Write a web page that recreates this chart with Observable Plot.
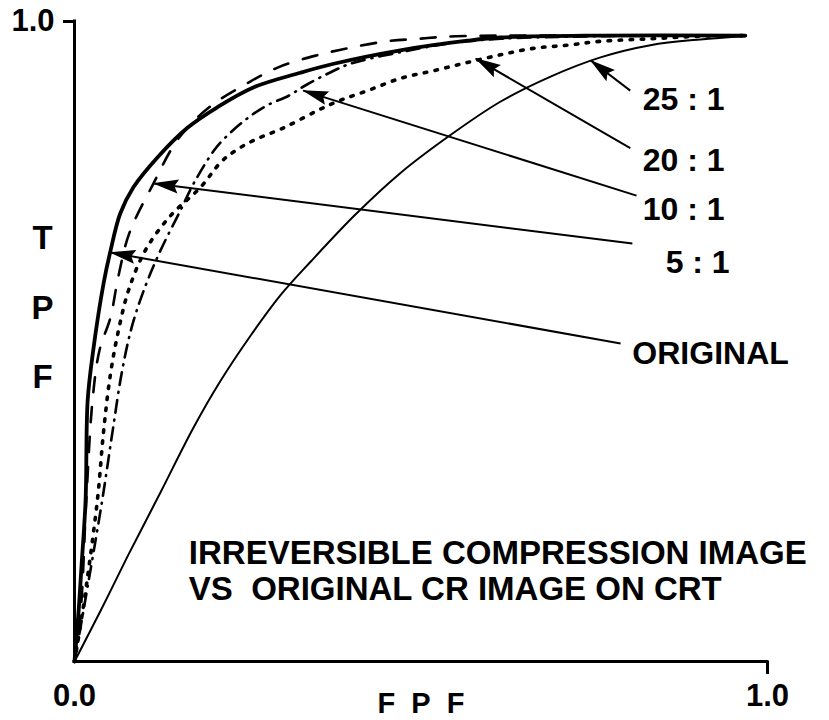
<!DOCTYPE html>
<html>
<head>
<meta charset="utf-8">
<script src="https://cdn.jsdelivr.net/npm/d3@7"></script>
<script src="https://cdn.jsdelivr.net/npm/@observablehq/plot@0.6"></script>
<style>
  html, body { margin: 0; padding: 0; background: #fff; }
</style>
</head>
<body>
<div id="chart"></div>
<script>
// ROC curves: [FPF, TPF]
const original = [[0,0],[0.006,0.080],[0.010,0.147],[0.016,0.252],[0.019,0.408],[0.027,0.486],[0.042,0.591],[0.052,0.642],[0.066,0.700],[0.085,0.741],[0.120,0.788],[0.163,0.834],[0.206,0.866],[0.258,0.897],[0.326,0.920],[0.374,0.934],[0.470,0.955],[0.567,0.970],[0.615,0.975],[0.759,0.978],[0.968,0.978]];
const ratio5 = [[0,0],[0.009,0.080],[0.017,0.252],[0.026,0.408],[0.036,0.486],[0.052,0.538],[0.063,0.600],[0.079,0.669],[0.114,0.747],[0.143,0.806],[0.167,0.839],[0.203,0.873],[0.247,0.902],[0.293,0.928],[0.349,0.947],[0.398,0.959],[0.450,0.969],[0.496,0.973],[0.550,0.977],[0.701,0.978],[0.968,0.978]];
const ratio10 = [[0,0],[0.013,0.080],[0.040,0.252],[0.055,0.360],[0.068,0.450],[0.082,0.520],[0.100,0.580],[0.124,0.642],[0.153,0.705],[0.172,0.747],[0.201,0.798],[0.218,0.819],[0.251,0.850],[0.278,0.869],[0.309,0.884],[0.333,0.900],[0.374,0.923],[0.398,0.934],[0.470,0.952],[0.543,0.966],[0.615,0.973],[0.759,0.977],[0.968,0.978]];
const ratio20 = [[0,0],[0.012,0.080],[0.033,0.252],[0.042,0.360],[0.052,0.450],[0.064,0.520],[0.078,0.580],[0.102,0.642],[0.139,0.697],[0.182,0.741],[0.211,0.780],[0.232,0.798],[0.258,0.814],[0.302,0.834],[0.351,0.861],[0.384,0.877],[0.423,0.892],[0.470,0.911],[0.518,0.923],[0.567,0.936],[0.615,0.948],[0.662,0.958],[0.711,0.963],[0.759,0.969],[0.831,0.973],[0.903,0.977],[0.968,0.978]];
const ratio25 = [[0,0],[0.038,0.080],[0.076,0.163],[0.124,0.264],[0.172,0.366],[0.211,0.439],[0.254,0.509],[0.297,0.572],[0.341,0.625],[0.405,0.698],[0.470,0.763],[0.543,0.823],[0.615,0.875],[0.687,0.914],[0.759,0.944],[0.831,0.963],[0.903,0.972],[0.968,0.977]];

// Labels and pointer arrows
const labelText = ["25\u00a0:\u00a01", "20\u00a0:\u00a01", "10\u00a0:\u00a01", "5\u00a0:\u00a01", "ORIGINAL"];
const labelFPF = [0.820, 0.820, 0.820, 0.853, 0.805];
const labelTPF = [0.877, 0.783, 0.706, 0.623, 0.481];
const arrowTail = [[0.802,0.892],[0.802,0.802],[0.811,0.728],[0.805,0.653],[0.788,0.497]];
const arrowTip  = [[0.745,0.939],[0.579,0.942],[0.330,0.892],[0.114,0.747],[0.052,0.639]];

const noteLines = ["IRREVERSIBLE COMPRESSION IMAGE", "VS\u00a0\u00a0ORIGINAL CR IMAGE ON CRT"];
const notePos = [0.165, 0.142];

const xTicks = [0, 1];
const yTicks = [1];
const yTitle = "T\nP\nF";
const xTitle = "F\u00a0\u00a0P\u00a0\u00a0F";

const FONT = "'Liberation Sans', Arial, Helvetica, sans-serif";
const toPts = (arr) => arr.map(([x, y]) => ({x, y}));
const arrows = arrowTail.map((t, i) => ({x1: t[0], y1: t[1], x2: arrowTip[i][0], y2: arrowTip[i][1]}));
const labels = labelText.map((t, i) => ({t, x: labelFPF[i], y: labelTPF[i]}));

function arrowHead(color, context) {
  const doc = (context && context.document) || document;
  const ns = "http://www.w3.org/2000/svg";
  const m = doc.createElementNS(ns, "marker");
  m.setAttribute("viewBox", "-26 -8 28 16");
  m.setAttribute("markerUnits", "userSpaceOnUse");
  m.setAttribute("markerWidth", 28);
  m.setAttribute("markerHeight", 16);
  m.setAttribute("refX", 0);
  m.setAttribute("refY", 0);
  m.setAttribute("orient", "auto");
  const p = doc.createElementNS(ns, "path");
  p.setAttribute("d", "M1,0L-25,-7L-21,0L-25,7Z");
  p.setAttribute("fill", color === "currentColor" ? "black" : color);
  p.setAttribute("stroke", "none");
  m.appendChild(p);
  return m;
}

const chart = Plot.plot({
  width: 829,
  height: 720,
  marginLeft: 74,
  marginRight: 62,
  marginTop: 21,
  marginBottom: 59,
  x: {domain: [0, 1]},
  y: {domain: [0, 1]},
  style: {fontFamily: FONT, background: "white", color: "black", overflow: "visible"},
  marks: [
    Plot.line(toPts(ratio25), {x: "x", y: "y", stroke: "black", strokeWidth: 2, curve: "catmull-rom"}),
    Plot.line(toPts(ratio20), {x: "x", y: "y", stroke: "black", strokeWidth: 3.6, strokeDasharray: "2.5,8.5", strokeLinecap: "round", curve: "catmull-rom"}),
    Plot.line(toPts(ratio10), {x: "x", y: "y", stroke: "black", strokeWidth: 2.6, strokeDasharray: "13,7,1,7", strokeLinecap: "round", curve: "catmull-rom"}),
    Plot.line(toPts(ratio5), {x: "x", y: "y", stroke: "black", strokeWidth: 2.6, strokeDasharray: "15,15", curve: "catmull-rom"}),
    Plot.line(toPts(original), {x: "x", y: "y", stroke: "black", strokeWidth: 3.8, curve: "catmull-rom"}),
    Plot.link(arrows, {x1: "x1", y1: "y1", x2: "x2", y2: "y2", stroke: "black", strokeWidth: 2, markerEnd: arrowHead}),
    Plot.text(labels, {x: "x", y: "y", text: "t", textAnchor: "start", lineAnchor: "middle", fontSize: 32, fontWeight: "bold", fill: "black"}),
    Plot.text([noteLines.join("\n")], {x: notePos[0], y: notePos[1], textAnchor: "start", lineAnchor: "middle", lineHeight: 1.07, fontSize: 33, fontWeight: "bold", fill: "black"}),
    Plot.text([yTitle], {frameAnchor: "left", dx: -32, dy: -45, textAnchor: "middle", lineAnchor: "middle", lineHeight: 2.1, fontSize: 33, fontWeight: "bold", fill: "black"}),
    Plot.text([xTitle], {frameAnchor: "bottom", dy: 42, textAnchor: "middle", lineAnchor: "middle", fontSize: 29, fontWeight: "bold", fill: "black"}),
    Plot.axisY({ticks: yTicks, tickSize: 11, tickPadding: 9, tickFormat: d3.format(".1f"), label: null, fontSize: 31, fontWeight: "bold", strokeWidth: 3}),
    Plot.axisX({ticks: [xTicks[1]], tickSize: 13, tickPadding: 9, tickFormat: d3.format(".1f"), label: null, fontSize: 31, fontWeight: "bold", strokeWidth: 3}),
    Plot.axisX({ticks: [xTicks[0]], tickSize: 0, tickPadding: 22, tickFormat: d3.format(".1f"), label: null, fontSize: 31, fontWeight: "bold"}),
    Plot.ruleX([0], {strokeWidth: 3, strokeLinecap: "square"}),
    Plot.ruleY([0], {strokeWidth: 3, strokeLinecap: "square"})
  ]
});
document.getElementById("chart").appendChild(chart);
</script>
</body>
</html>
